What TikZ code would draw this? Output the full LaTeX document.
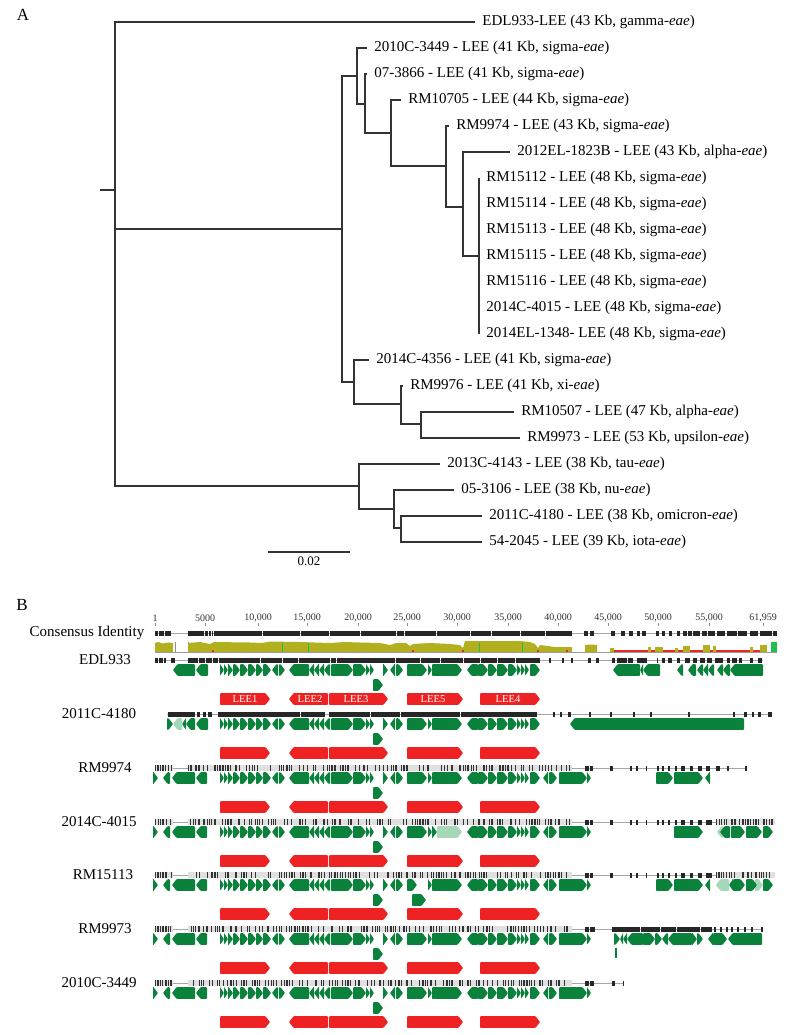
\documentclass[tikz,border=0pt]{standalone}
\usepackage{fontspec}
\setmainfont{Liberation Serif}

\definecolor{genegreen}{RGB}{10,130,60}
\definecolor{fadegreen}{RGB}{165,215,185}
\definecolor{leered}{RGB}{238,34,34}
\definecolor{identolive}{RGB}{178,176,30}
\definecolor{identred}{RGB}{236,40,36}
\definecolor{identgreen}{RGB}{30,190,80}

% gene arrows: list of start/end/direction (1 right, -1 left)
\newcommand\genes[3][genegreen]{%
  \foreach \ga/\gb/\gd in #3 {%
    \pgfmathsetmacro\gp{min(4.5,\gb-\ga)}%
    \ifnum\gd>0
      \fill[#1,rounded corners=0.4pt] (\ga,#2-5.8) -- (\gb-\gp,#2-5.8) -- (\gb,#2) -- (\gb-\gp,#2+5.8) -- (\ga,#2+5.8) -- cycle;
    \else
      \fill[#1,rounded corners=0.4pt] (\gb,#2-5.8) -- (\ga+\gp,#2-5.8) -- (\ga,#2) -- (\ga+\gp,#2+5.8) -- (\gb,#2+5.8) -- cycle;
    \fi}}
% black blocks of an alignment bar
\newcommand\idblocks[3][2.5]{%
  \foreach \ba/\bb in #3 {\fill[black!85] (\ba,#2-#1) rectangle (\bb,#2+#1);}}
% grey bar with variant ticks
\newcommand\varbar[4]{%
  \fill[black!12] (#2,#1-3) rectangle (#3,#1+3);
  \pgfmathtruncatemacro\vbn{(#3-#2)/1.6}%
  \foreach \vi in {1,...,\vbn}{%
    \pgfmathsetmacro\vbr{rnd}%
    \ifdim\vbr pt<#4pt
      \pgfmathsetmacro\vbx{#2+1.6*\vi-1.4}%
      \fill[black!80] (\vbx,#1-3) rectangle ++(1,6);
    \fi}}

% gene lists
\def\coreA{220/224/1,224/228/1,228/233/1,233/240/1,240/248/1,248/256/1,256/263/1,263/271/1,272/278/-1,279/285/1,289/309/-1,309/314/-1,314/319/-1,319/324/-1,324/330/-1,331/353/1,353/366/1,366/370/1,370/374/1,383/388/1,390/395/-1,396/403/1}
\def\coreB{467/478/-1,478/488/1,488/497/1,497/508/1,508/517/1,517/521/1,521/525/1,525/529/1,530/540/1}
\def\coreC{543/548/-1,549/557/1,559/587/1,587/591/1}
\def\midS{407/427/1,428/432/1,432/462/1}
\def\leftB{153/158/1,163/170/-1,172/195/-1,196/207/-1}
\def\leeset{220/270/1,289/328/-1,329/388/1,407/463/1,480/540/1}
\def\extra{373/383/1}

% alignment blocks
\def\consblk{155/158,159/164,165/171,188/204,205/207.5,208.5/210.5,211.5/213,214/262,263/300,301/329,330/360,361/396,397/404,405/436,437/470,471/491,492/520,521/545,546/572,584/588,590/594,611/615,621/625,629/633,637/640,642/646,656/659,662/665,669/672,677/680,683/687,688/692,693/700,702/707,708/715,717/725,727/737,738/747,750/758,760/772,773/777}
\def\edlblk{155/158,159/163,164/166,171/175,188/198,199/205,206/212,213/218,219/260,261/282,283/298,299/330,331/336,337/395,396/420,421/440,441/463,464/480,481/497,498/515,516/540,549/551,562/564,571/573,588/591,596/599,612/615,617/627,628/633,637/647,657/658,662/665,668/672,677/680,685/690,693/697,700/705,707/712,715/723,727/730,732/737,739/742,750/753,758/762}
\def\cblk{168/195,197/200,203/206,208/212,218/300,301/325,329/370,371/400,401/460,461/537,553/555,560/562,568/571,589/591,610/612,633/635,650/652,688/690,733/735,744/747,752/754,758/761,768/772}
\def\tailA{585/589,590/593,610/613,630/632,636/638,646/647,657/659,662/664,668/670,675/677,681/685,690/693,698/702,706/710,716/720,727/729,745/747}
\def\tailB{585/589,590/593,610/613,630/632,636/638,646/647,657/659,662/664,668/670,675/677,681/685,690/693,698/702,706/712}
\def\tailC{585/589,590/595,612/640,641/660,661/676,677/700,701/712,714/716,720/722,726/728,731/733,737/739,744/746,751/753,761/763}

\begin{document}
\begin{tikzpicture}[x=0.5pt,y=-0.5pt,
  branch/.style={draw=black!80,line width=0.6pt},
  leaf/.style={anchor=west,inner xsep=3.5pt,inner ysep=0pt,font=\fontsize{7.5}{9}\selectfont},
  rowlabel/.style={inner sep=0pt,font=\fontsize{7.5}{9}\selectfont},
  panel/.style={font=\fontsize{8.5}{10}\selectfont},
  ruler/.style={inner sep=0pt,font=\fontsize{5}{6}\selectfont,text=black!80},
  leetext/.style={inner sep=0pt,text=white,font=\fontsize{5.3}{6}\selectfont},
  alnline/.style={draw=black!35,line width=0.3pt}]
\useasboundingbox (0,0) rectangle (789,1035);
\fill[white] (0,0) rectangle (789,1035);
\pgfmathsetseed{4015}

% ---- A: tree
\node[panel] (panA) at (23,15) {A};
\coordinate (stub) at (100,190);
\coordinate (root) at (115,190);
\coordinate (clA) at (342,229);
\coordinate (n1) at (357,76);
\coordinate (n2) at (365,104);
\coordinate (n3) at (391,133);
\coordinate (n4) at (446,166);
\coordinate (n5) at (463,207);
\coordinate (n6) at (479,256);
\coordinate (clB) at (354,382);
\coordinate (b2) at (401,404);
\coordinate (b3) at (421,424);
\coordinate (clC) at (359,486);
\coordinate (c2) at (394,509);
\coordinate (c3) at (401,528);

\node[leaf] (edl) at (475,22) {EDL933-LEE (43 Kb, gamma-\emph{eae})};
\node[leaf] (s3449) at (367,48) {2010C-3449 - LEE (41 Kb, sigma-\emph{eae})};
\node[leaf] (s3866) at (367,74) {07-3866 - LEE (41 Kb, sigma-\emph{eae})};
\node[leaf] (r10705) at (401,100) {RM10705 - LEE (44 Kb, sigma-\emph{eae})};
\node[leaf] (r9974) at (449,126) {RM9974 - LEE (43 Kb, sigma-\emph{eae})};
\node[leaf] (e1823) at (510,152) {2012EL-1823B - LEE (43 Kb, alpha-\emph{eae})};
\foreach \nm/\lbl [count=\k] in {r15112/RM15112 - LEE,r15114/RM15114 - LEE,r15113/RM15113 - LEE,r15115/RM15115 - LEE,r15116/RM15116 - LEE,c4015/2014C-4015 - LEE,e1348/2014EL-1348- LEE}{
  \node[leaf] (\nm) at (479,152+26*\k) {\lbl{} (48 Kb, sigma-\emph{eae})};
  \draw[branch] (n6) |- (\nm.west);
}
\node[leaf] (s4356) at (369,360) {2014C-4356 - LEE (41 Kb, sigma-\emph{eae})};
\node[leaf] (r9976) at (403,386) {RM9976 - LEE (41 Kb, xi-\emph{eae})};
\node[leaf] (r10507) at (514,412) {RM10507 - LEE (47 Kb, alpha-\emph{eae})};
\node[leaf] (r9973) at (520,438) {RM9973 - LEE (53 Kb, upsilon-\emph{eae})};
\node[leaf] (t4143) at (440,464) {2013C-4143 - LEE (38 Kb, tau-\emph{eae})};
\node[leaf] (n3106) at (454,490) {05-3106 - LEE (38 Kb, nu-\emph{eae})};
\node[leaf] (o4180) at (482,516) {2011C-4180 - LEE (38 Kb, omicron-\emph{eae})};
\node[leaf] (i2045) at (482,542) {54-2045 - LEE (39 Kb, iota-\emph{eae})};

\draw[branch] (stub) -- (root) (root) |- (edl.west) (root) |- (clA) (root) |- (clC)
  (clA) |- (n1) (clA) |- (clB)
  (n1) |- (s3449.west) (n1) |- (n2)
  (n2) |- (s3866.west) (n2) |- (n3)
  (n3) |- (r10705.west) (n3) |- (n4)
  (n4) |- (r9974.west) (n4) |- (n5)
  (n5) |- (e1823.west) (n5) |- (n6)
  (clB) |- (s4356.west) (clB) |- (b2)
  (b2) |- (r9976.west) (b2) |- (b3)
  (b3) |- (r10507.west) (b3) |- (r9973.west)
  (clC) |- (t4143.west) (clC) |- (c2)
  (c2) |- (n3106.west) (c2) |- (c3)
  (c3) |- (o4180.west) (c3) |- (i2045.west);

\coordinate (sbl) at (268,552);
\coordinate (sbr) at (350,552);
\draw[branch] (sbl) -- node[below=2pt,rowlabel,font=\fontsize{6.5}{8}\selectfont] (sblab) {0.02} (sbr);

% ---- B: alignment
\node[panel] (panB) at (22,605) {B};
\foreach \rx/\rl in {155/1,205/5000,258/{10,000},307/{15,000},358/{20,000},407/{25,000},457/{30,000},508/{35,000},558/{40,000},608/{45,000},658/{50,000},709/{55,000},763/{61,959}}{
  \node[ruler] (rl\rx) at (\rx,618) {\rl};
  \draw[black!45,line width=0.3pt] (\rx,623) -- (\rx,626);
}
\node[rowlabel] (cons) at (87,633) {Consensus Identity};
\draw[alnline] (155,633) -- (777,633);
\idblocks{633}{\consblk}

% identity graph
\fill[identolive] (155,652) -- (155,643) -- (158,642) -- (163,643.5) -- (168,642.5) -- (173,643) -- (173,652) -- cycle;
\draw[black!45,line width=0.3pt] (175,642) -- (175,652) -- (188,652) -- (188,642);
\fill[identolive] (188,652) -- plot coordinates {(188,643) (200,642) (210,644) (214,642) (250,642.5) (262,643) (270,641.5) (300,642) (330,643) (345,642) (360,642.5) (380,643) (390,645) (396,643) (406,643) (410,646) (413,644) (430,643) (450,644) (460,645) (463,648) (465,641) (520,641) (530,642) (535,644) (538,648) (540,645) (555,647) (572,647)} -- (572,652) -- cycle;
\foreach \mx in {213,413,463,538,567} \fill[identred] (\mx-1,649.5) rectangle (\mx+1,652);
\foreach \gx in {282,308,479,522} \draw[identgreen,line width=0.4pt] (\gx,642.5) -- (\gx,652);
\fill[identolive] (585,652) -- (585,645) -- (591,644.5) -- (597,645) -- (597,652) -- cycle;
\fill[identred] (610,652) rectangle (767,649.5);
\foreach \oa/\ob/\oh in {610/614/648,648/651/647,655/663/647,675/678/648,683/690/646,703/710/645,713/716/646,750/753/647,760/767/645} \fill[identolive] (\oa,652) rectangle (\ob,\oh);
\fill[identgreen] (771,641.5) rectangle (777,652);
\draw[black!40,line width=0.3pt] (155,652) -- (777,652);

% EDL933
\node[rowlabel] (edl933) at (105,660) {EDL933};
\draw[alnline] (155,660) -- (763,660);
\idblocks{660}{\edlblk}
\genes{670}{{173/195/-1,196/208/-1}}
\genes{670}{\coreA} \genes{670}{\midS} \genes{670}{\coreB}
\genes{670}{{613/640/-1,640/643/-1,643/660/-1,677/683/-1,688/696/-1,697/703/-1,703/708/-1,708/714/-1,717/723/-1,723/730/-1,730/763/-1}}
\genes{685}{\extra}
\genes[leered]{699}{\leeset}
\node[leetext] (lee1) at (245,699) {LEE1};
\node[leetext] (lee2) at (310,699) {LEE2};
\node[leetext] (lee3) at (356,699) {LEE3};
\node[leetext] (lee5) at (433,699) {LEE5};
\node[leetext] (lee4) at (508,699) {LEE4};

% 2011C-4180
\node[rowlabel] (c4180) at (99,714) {2011C-4180};
\draw[alnline] (167,714) -- (772,714);
\idblocks{714}{\cblk}
\genes{724}{{167/173/1,182/186/-1,186/195/-1,196/208/-1}}
\genes[fadegreen]{724}{{173/182/-1}}
\genes{724}{\coreA} \genes{724}{\midS} \genes{724}{\coreB}
\genes{724}{{570/744/-1}}
\genes{739}{\extra}
\genes[leered]{753}{\leeset}

% RM9974
\node[rowlabel] (m9974) at (105,768) {RM9974};
\draw[alnline] (155,768) -- (747,768);
\varbar{768}{155}{173}{0.85} \varbar{768}{188}{572}{0.5}
\idblocks{768}{\tailA}
\genes{778}{\leftB} \genes{778}{\coreA} \genes{778}{\midS} \genes{778}{\coreB} \genes{778}{\coreC}
\genes{778}{{656/673/1,674/703/1,705/710/-1}}
\genes{793}{\extra}
\genes[leered]{807}{\leeset}

% 2014C-4015
\node[rowlabel] (c4015) at (99,822) {2014C-4015};
\draw[alnline] (155,822) -- (775,822);
\varbar{822}{155}{173}{0.85} \varbar{822}{188}{572}{0.5} \varbar{822}{716}{775}{0.65}
\idblocks{822}{\tailB}
\genes{832}{\leftB} \genes{832}{\coreA} \genes{832}{{407/427/1,428/432/1,432/437/1}} \genes{832}{\coreB} \genes{832}{\coreC}
\genes[fadegreen]{832}{{437/462/1,717/723/-1}}
\genes{832}{{674/703/1,720/730/-1,731/745/1,746/762/1,763/773/1}}
\genes{847}{\extra}
\genes[leered]{861}{\leeset}

% RM15113
\node[rowlabel] (m15113) at (103,875) {RM15113};
\draw[alnline] (155,875) -- (775,875);
\varbar{875}{155}{173}{0.85} \varbar{875}{188}{572}{0.5} \varbar{875}{716}{775}{0.65}
\idblocks{875}{\tailB}
\genes{885}{\leftB} \genes{885}{\coreA} \genes{885}{{407/417/1,428/432/1,432/462/1}} \genes{885}{\coreB} \genes{885}{\coreC}
\genes[fadegreen]{885}{{716/729/-1,755/763/1}}
\genes{885}{{656/673/1,674/703/1,705/710/-1,729/733/-1,733/745/1,746/757/1,763/773/1}}
\genes{900}{{373/383/1,412/426/1}}
\genes[leered]{914}{\leeset}

% RM9973
\node[rowlabel] (m9973) at (105,929) {RM9973};
\draw[alnline] (155,929) -- (763,929);
\varbar{929}{155}{173}{0.85} \varbar{929}{188}{572}{0.5}
\idblocks{929}{\tailC}
\genes{939}{\leftB} \genes{939}{\coreA} \genes{939}{\midS} \genes{939}{\coreB} \genes{939}{\coreC}
\genes{939}{{614/620/1,620/623/-1,623/627/-1,627/643/-1,643/655/1,655/662/1,662/668/-1,668/692/-1,692/697/1,697/703/1,708/713/-1,713/727/1,728/762/-1}}
\genes{954}{\extra}
\fill[genegreen] (615.4,948) rectangle (616.6,958);
\genes[leered]{968}{\leeset}

% 2010C-3449
\node[rowlabel] (c3449) at (99,983) {2010C-3449};
\draw[alnline] (155,983) -- (624,983);
\varbar{983}{155}{173}{0.85} \varbar{983}{188}{572}{0.5}
\idblocks{983}{{585/589,590/594,612/615,622.5/623.5}}
\genes{993}{\leftB} \genes{993}{\coreA} \genes{993}{\midS} \genes{993}{\coreB} \genes{993}{\coreC}
\genes{1008}{\extra}
\genes[leered]{1022}{\leeset}
\end{tikzpicture}
\end{document}
